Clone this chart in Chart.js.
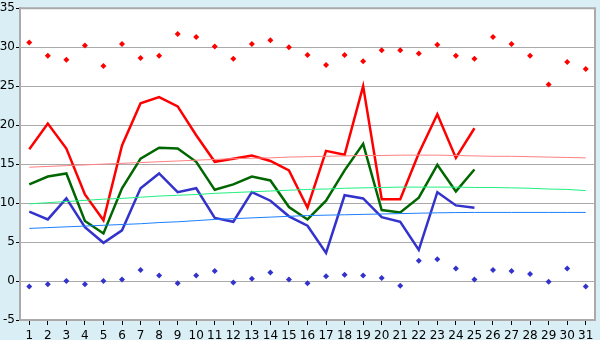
<!DOCTYPE html>
<html>
<head>
<meta charset="utf-8">
<script src="https://cdn.jsdelivr.net/npm/chart.js@4/dist/chart.umd.min.js"></script>
<style>
  html, body { margin: 0; padding: 0; background: #d9eff5; }
  #wrap { width: 600px; height: 340px; }
</style>
</head>
<body>
<div id="wrap"><canvas id="chart" width="600" height="340"></canvas></div>
<script>
// Days of the month
const days = Array.from({ length: 31 }, (_, i) => String(i + 1))

// Daily lines (days 1-25)
const highTemps = [16.9, 20.2, 17.0, 11.1, 7.8, 17.4, 22.8, 23.6, 22.4, 18.7,
  15.3, 15.7, 16.1, 15.4, 14.2, 9.4, 16.7, 16.2, 25.0, 10.5,
  10.5, 16.4, 21.4, 15.8, 19.6, null, null, null, null, null, null]
const meanTemps = [12.4, 13.4, 13.8, 7.7, 6.1, 11.9, 15.7, 17.1, 17.0, 15.3,
  11.7, 12.4, 13.4, 12.9, 9.5, 7.9, 10.3, 14.2, 17.6, 9.1,
  8.8, 10.7, 14.9, 11.5, 14.3, null, null, null, null, null, null]
const lowTemps = [8.9, 7.9, 10.6, 6.9, 4.9, 6.5, 11.9, 13.8, 11.4, 11.9,
  8.1, 7.6, 11.4, 10.3, 8.3, 7.1, 3.6, 11.0, 10.6, 8.2,
  7.6, 4.0, 11.4, 9.7, 9.4, null, null, null, null, null, null]

// Record points (all days)
const recordHigh = [30.6, 28.9, 28.4, 30.2, 27.6, 30.4, 28.6, 28.9, 31.7, 31.3,
  30.1, 28.5, 30.4, 30.9, 30.0, 29.0, 27.7, 29.0, 28.2, 29.6,
  29.6, 29.2, 30.3, 28.9, 28.5, 31.3, 30.4, 28.9, 25.2, 28.1, 27.2]
const recordLow = [-0.7, -0.4, 0.0, -0.4, 0.0, 0.2, 1.4, 0.7, -0.3, 0.7,
  1.3, -0.2, 0.3, 1.1, 0.2, -0.3, 0.6, 0.8, 0.7, 0.4,
  -0.6, 2.6, 2.8, 1.6, 0.2, 1.4, 1.3, 0.9, -0.1, 1.6, -0.7]

// Trend lines
const highTrend = [14.6, 14.7, 14.8, 14.9, 15.0, 15.1, 15.2, 15.3, 15.4, 15.5,
  15.6, 15.7, 15.75, 15.8, 15.9, 15.95, 16.0, 16.05, 16.1, 16.1,
  16.15, 16.15, 16.15, 16.1, 16.05, 16.0, 16.0, 15.95, 15.9, 15.85, 15.8]
const meanTrend = [9.9, 10.05, 10.2, 10.35, 10.5, 10.6, 10.75, 10.9, 11.0, 11.1,
  11.25, 11.35, 11.45, 11.55, 11.65, 11.75, 11.8, 11.9, 11.95, 12.0,
  12.05, 12.05, 12.05, 12.05, 12.0, 12.0, 11.95, 11.9, 11.8, 11.75, 11.6]
const lowTrend = [6.75, 6.85, 6.95, 7.05, 7.15, 7.25, 7.35, 7.5, 7.6, 7.75,
  7.9, 8.0, 8.1, 8.2, 8.3, 8.4, 8.45, 8.5, 8.55, 8.6,
  8.65, 8.7, 8.75, 8.78, 8.8, 8.8, 8.8, 8.8, 8.8, 8.8, 8.8]

const yTicks = { min: -5, max: 35, step: 5 }

// White plot area with grey frame on a light blue page
const plotBackground = {
  id: "plotBackground",
  beforeDraw(chart) {
    const { ctx, chartArea: a } = chart
    ctx.save()
    ctx.fillStyle = "#d9eff5"
    ctx.fillRect(0, 0, chart.width, chart.height)
    ctx.fillStyle = "#ffffff"
    ctx.fillRect(a.left, a.top, a.right - a.left, a.bottom - a.top)
    ctx.restore()
  },
  afterDatasetsDraw(chart) {
    const { ctx, chartArea: a } = chart
    ctx.save()
    ctx.strokeStyle = "#aaaaaa"
    ctx.lineWidth = 2
    ctx.beginPath()
    ctx.moveTo(a.left, a.top)
    ctx.lineTo(a.right, a.top)
    ctx.lineTo(a.right, a.bottom)
    ctx.stroke()
    ctx.restore()
  }
}

const lineSet = (data, color, width) => ({
  type: "line",
  data,
  borderColor: color,
  borderWidth: width,
  pointRadius: 0,
  tension: 0,
  fill: false,
  spanGaps: false
})

const pointSet = (data, color) => ({
  type: "line",
  data,
  showLine: false,
  pointStyle: "rectRot",
  pointRadius: 3,
  pointBackgroundColor: color,
  pointBorderColor: color,
  pointBorderWidth: 0
})

new Chart(document.getElementById("chart"), {
  type: "line",
  data: {
    labels: days,
    datasets: [
      lineSet(highTrend, "#ff8080", 1),
      lineSet(meanTrend, "#20f080", 1),
      lineSet(lowTrend, "#1e7fff", 1),
      lineSet(lowTemps, "#3333cc", 2.5),
      lineSet(meanTemps, "#006600", 2.5),
      lineSet(highTemps, "#ff0000", 2.5),
      pointSet(recordHigh, "#ff0000"),
      pointSet(recordLow, "#3333cc")
    ]
  },
  options: {
    responsive: false,
    animation: false,
    devicePixelRatio: 1,
    layout: { padding: { top: 5, right: 5, left: 0, bottom: 0 } },
    plugins: {
      legend: { display: false },
      tooltip: { enabled: false }
    },
    scales: {
      x: {
        offset: true,
        afterFit: (axis) => { axis.height = 20 },
        grid: {
          drawOnChartArea: false,
          drawTicks: true,
          tickLength: 5,
          tickColor: "#000000",
          offset: false
        },
        border: { color: "#aaaaaa", width: 2 },
        ticks: {
          color: "#000000",
          padding: 4,
          autoSkip: false,
          maxRotation: 0,
          font: { family: "DejaVu Sans", size: 12 }
        }
      },
      y: {
        min: yTicks.min,
        max: yTicks.max,
        afterFit: (axis) => { axis.width = 20 },
        grid: {
          color: "#aaaaaa",
          lineWidth: 1,
          drawTicks: true,
          tickLength: 4,
          tickColor: "#000000"
        },
        border: { color: "#aaaaaa", width: 2 },
        ticks: {
          stepSize: yTicks.step,
          color: "#000000",
          padding: 1,
          font: { family: "DejaVu Sans", size: 12 }
        }
      }
    }
  },
  plugins: [plotBackground]
})
</script>
</body>
</html>
